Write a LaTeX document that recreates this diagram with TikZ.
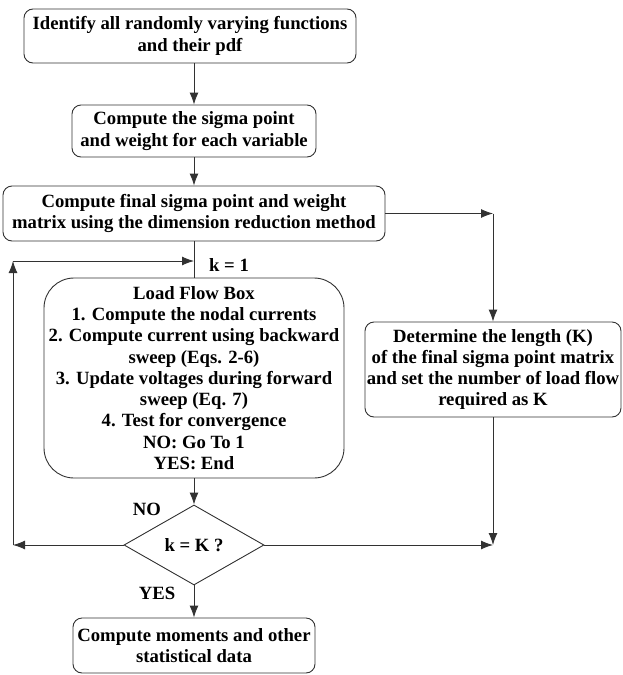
\documentclass[tikz,border=0pt]{standalone}
\usepackage{fontspec}
\setmainfont{Liberation Serif}
\usepackage{tikz}
\usetikzlibrary{positioning, arrows.meta, shapes.geometric}
\definecolor{FlowLine}{RGB}{50,50,50}
\newcommand{\flowfont}{\fontsize{18.7}{21.3}\selectfont\bfseries}
\tikzset{
  procbox/.style={draw=FlowLine, line width=0.9pt, rounded corners=9pt, align=center,
    font=\flowfont, inner sep=1pt},
  lfbox/.style={procbox, rounded corners=30pt},
  testbox/.style={draw=FlowLine, line width=0.9pt, diamond, aspect=1.75, inner sep=0pt,
    font=\flowfont, minimum width=140pt, minimum height=80pt},
  flowlabel/.style={font=\flowfont, inner sep=0pt},
  flowline/.style={FlowLine, line width=0.9pt},
  arr/.style={-{Latex[length=12pt, width=9pt]}, line width=0.9pt, FlowLine},
}

\begin{document}
\begin{tikzpicture}[x=1pt, y=-1pt]
  \useasboundingbox (0,0) rectangle (622,675);
  \node[procbox, minimum width=332pt, minimum height=54pt] (ident) at (190,36)
    {Identify all randomly varying functions\\and their pdf};
  \node[procbox, minimum width=244pt, minimum height=52pt] (sigma) at (194,131)
    {Compute the sigma point\\and weight for each variable};
  \node[procbox, minimum width=382pt, minimum height=55pt] (final) at (194,213.5)
    {Compute final sigma point and weight\\matrix using the dimension reduction method};
  \node[lfbox, minimum width=300pt, minimum height=200pt] (lf) at (194,378)
    {Load Flow Box\\1. Compute the nodal currents\\2. Compute current using backward\\sweep (Eqs. 2-6)\\
     3. Update voltages during forward\\sweep (Eq. 7)\\4. Test for convergence\\NO: Go To 1\\YES: End};
  \node[procbox, minimum width=256pt, minimum height=95pt] (len) at (493,369.5)
    {Determine the length (K)\\of the final sigma point matrix\\and set the number of load flow\\required as K};
  \node[testbox] (test) at (194,545) {k = K ?};
  \node[procbox, minimum width=242pt, minimum height=55pt] (stats) at (194,645.5)
    {Compute moments and other\\statistical data};
  \node[flowlabel] (kone) at (229,265) {k = 1};
  \node[flowlabel] (no) at (147,509) {NO};
  \node[flowlabel] (yes) at (157,593) {YES};
  \coordinate (kin) at (194,261);
  \coordinate (loopB) at (13,545);
  \coordinate (loopT) at (13,261);
  \coordinate (rT) at (493,213.5);
  \coordinate (rB) at (493,545);
  \draw[arr] (sigma.north |- ident.south) -- (sigma.north);
  \draw[arr] (sigma.south) -- (final.north);
  \draw[flowline] (final.south) -- (lf.north);
  \draw[arr] (lf.south) -- (test.north);
  \draw[arr] (test.south) -- (stats.north);
  \draw[arr] (test.west) -- (loopB);
  \draw[arr] (loopB) -- (loopT);
  \draw[arr] (loopT) -- (kin);
  \draw[arr] (final.east) -- (rT);
  \draw[arr] (rT) -- (len.north);
  \draw[arr] (len.south) -- (rB);
  \draw[arr] (test.east) -- (rB);
\end{tikzpicture}
\end{document}
